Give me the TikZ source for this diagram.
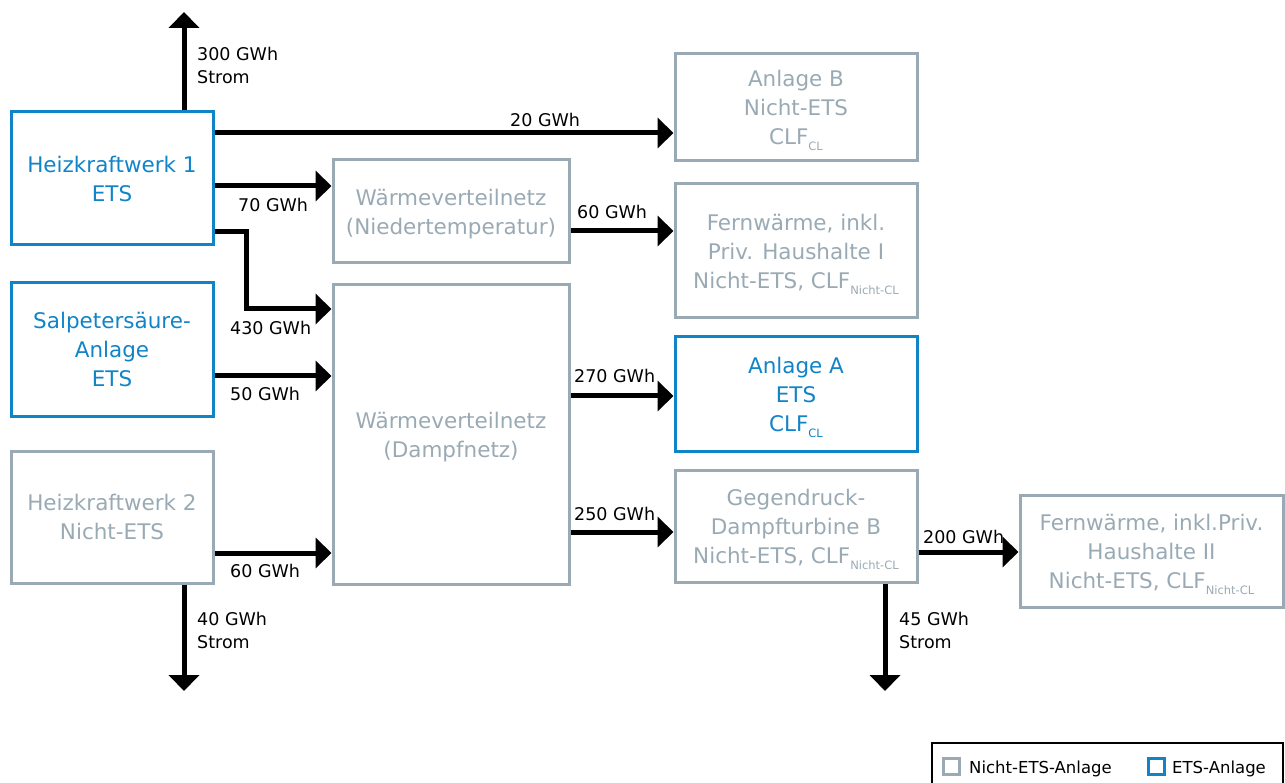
\documentclass[tikz,border=0pt]{standalone}
\usepackage{fontspec}
\setmainfont{DejaVu Sans}
\usetikzlibrary{arrows.meta}
\definecolor{etsblue}{HTML}{1184C8}
\definecolor{nongray}{HTML}{9AAAB4}
\newcommand{\subx}[1]{\raisebox{-6pt}[0pt][0pt]{\fontsize{11.5}{12}\selectfont #1}}
\begin{document}
\begin{tikzpicture}[x=1pt,y=-1pt,
 box/.style={draw, line width=3pt, align=center, inner sep=0pt, text depth=0pt, font=\fontsize{21.5}{29}\selectfont},
 ets/.style={box, draw=etsblue, text=etsblue},
 non/.style={box, draw=nongray, text=nongray},
 flow/.style={line width=5pt, -{Triangle[length=16pt,width=30pt]}},
 lbl/.style={font=\fontsize{17.5}{23}\selectfont, inner sep=0pt, align=left, anchor=base west},
 lgl/.style={font=\fontsize{16.5}{23}\selectfont, inner sep=0pt, anchor=base west},
 lgsq/.style={draw, line width=3pt, minimum size=16pt, inner sep=0pt}]
\useasboundingbox (0,0) rectangle (1285,783);
% boxes
\node[ets, minimum width=202pt, minimum height=133pt] (hkw1) at (112,178.5) {Heizkraftwerk 1\\ETS};
\node[ets, minimum width=202pt, minimum height=133pt] (salp) at (112,349.5) {Salpeters\"aure-\\Anlage\\ETS};
\node[non, minimum width=202pt, minimum height=132pt] (hkw2) at (112,517) {Heizkraftwerk 2\\Nicht-ETS};
\node[non, minimum width=236pt, minimum height=103pt] (wvn) at (451,211.5) {W\"armeverteilnetz\\(Niedertemperatur)};
\node[non, minimum width=236pt, minimum height=299pt] (damp) at (451,434.5) {W\"armeverteilnetz\\(Dampfnetz)};
\node[non, minimum width=242pt, minimum height=107pt] (anlB) at (796,107.5) {Anlage B\\Nicht-ETS\\CLF\subx{CL}};
\node[non, minimum width=242pt, minimum height=134pt] (fw1) at (796,251) {Fernw\"arme, inkl.\\Priv. Haushalte I\\Nicht-ETS, CLF\subx{Nicht-CL}};
\node[ets, minimum width=242pt, minimum height=114pt] (anlA) at (796,394) {Anlage A\\ETS\\CLF\subx{CL}};
\node[non, minimum width=242pt, minimum height=112pt] (geg) at (796,526) {Gegendruck-\\Dampfturbine B\\Nicht-ETS, CLF\subx{Nicht-CL}};
\node[non, minimum width=263pt, minimum height=112pt] (fw2) at (1151.5,551) {Fernw\"arme, inkl.Priv.\\Haushalte II\\Nicht-ETS, CLF\subx{Nicht-CL}};
% free ends
\coordinate (top1) at (184,12);
\coordinate (bot2) at (184,691);
\coordinate (bot3) at (885,691);
% flows
\draw[flow] (hkw1.north -| top1) -- (top1);
\draw[flow] (hkw1.east |- 0,133) -- (anlB.west |- 0,133);
\draw[flow] (hkw1.east |- 0,186) -- (wvn.west |- 0,186);
\draw[flow] (hkw1.east |- 0,232) -| (246,309) -- (damp.west |- 0,309);
\draw[flow] (salp.east |- 0,376) -- (damp.west |- 0,376);
\draw[flow] (hkw2.east |- 0,553) -- (damp.west |- 0,553);
\draw[flow] (hkw2.south -| bot2) -- (bot2);
\draw[flow] (wvn.east |- 0,231) -- (fw1.west |- 0,231);
\draw[flow] (damp.east |- 0,396) -- (anlA.west |- 0,396);
\draw[flow] (damp.east |- 0,532) -- (geg.west |- 0,532);
\draw[flow] (geg.east |- 0,552) -- (fw2.west |- 0,552);
\draw[flow] (geg.south -| bot3) -- (bot3);
% labels
\node[lbl] (l300) at (197,61) {300 GWh};
\node[lbl] (l300s) at (197,84) {Strom};
\node[lbl] (l20) at (510,127) {20 GWh};
\node[lbl] (l70) at (238,212) {70 GWh};
\node[lbl] (l430) at (230,335) {430 GWh};
\node[lbl] (l50) at (230,400) {50 GWh};
\node[lbl] (l60a) at (230,577) {60 GWh};
\node[lbl] (l40) at (197,625) {40 GWh};
\node[lbl] (l40s) at (197,648) {Strom};
\node[lbl] (l60b) at (577,219) {60 GWh};
\node[lbl] (l270) at (574,383) {270 GWh};
\node[lbl] (l250) at (574,520) {250 GWh};
\node[lbl] (l200) at (923,543) {200 GWh};
\node[lbl] (l45) at (899,625) {45 GWh};
\node[lbl] (l45s) at (899,648) {Strom};
% legend
\node[draw=black, line width=2pt, minimum width=351pt, minimum height=44pt, inner sep=0pt] (leg) at (1107.5,765) {};
\node[lgsq, draw=nongray] (lg1) at (951.5,766) {};
\node[lgl] (lg1t) at (969,773) {Nicht-ETS-Anlage};
\node[lgsq, draw=etsblue] (lg2) at (1156,766) {};
\node[lgl] (lg2t) at (1172,773) {ETS-Anlage};
\end{tikzpicture}
\end{document}
